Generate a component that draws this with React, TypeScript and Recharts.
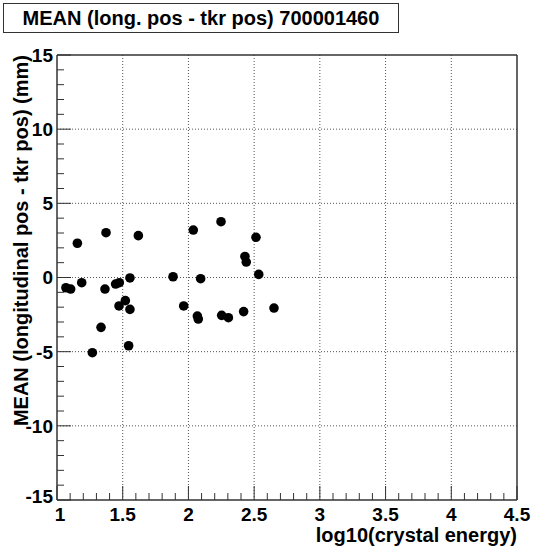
import React from 'react';
import {
  ScatterChart,
  Scatter,
  XAxis,
  YAxis,
  CartesianGrid,
  ReferenceLine,
} from 'recharts';

// Data
const logEnergy = [
  1.068, 1.104, 1.155, 1.188, 1.269, 1.335, 1.365, 1.373, 1.446, 1.472,
  1.474, 1.52, 1.545, 1.555, 1.555, 1.619, 1.883, 1.964, 2.037, 2.068,
  2.075, 2.093, 2.248, 2.253, 2.304, 2.42, 2.43, 2.44, 2.514, 2.535, 2.651,
];
const meanDiff = [
  -0.69, -0.78, 2.31, -0.35, -5.07, -3.36, -0.78, 3.02, -0.44, -1.92,
  -0.35, -1.56, -4.6, -0.03, -2.15, 2.82, 0.05, -1.92, 3.2, -2.6,
  -2.8, -0.08, 3.76, -2.55, -2.71, -2.3, 1.42, 1.04, 2.71, 0.21, -2.06,
];

const xMajorTicks = [1, 1.5, 2, 2.5, 3, 3.5, 4, 4.5];
const xTickLabels = ['1', '1.5', '2', '2.5', '3', '3.5', '4', '4.5'];
const yMajorTicks = [-15, -10, -5, 0, 5, 10, 15];
const yTickLabels = ['-15', '-10', '-5', '0', '5', '10', '15'];

const titleText = 'MEAN (long. pos - tkr pos) 700001460';
const xTitle = 'log10(crystal energy)';
const yTitle = 'MEAN (longitudinal pos - tkr pos) (mm)';

const data = logEnergy.map((x, i) => ({ x, y: meanDiff[i] }));

const xAllTicks: number[] = [];
for (let i = 0; i <= 35; i++) xAllTicks.push(Math.round((1 + i * 0.1) * 10) / 10);
const yAllTicks: number[] = [];
for (let i = -15; i <= 15; i++) yAllTicks.push(i);

const FONT = '"Liberation Sans", Arial, Helvetica, sans-serif';
const AXIS_COLOR = '#333';

const XTick = (props: any) => {
  const { x, y, payload } = props;
  const v = payload.value as number;
  const idx = xMajorTicks.findIndex((m) => Math.abs(m - v) < 1e-6);
  const major = idx >= 0;
  const dx = idx === 0 ? 3 : 0;
  return (
    <g>
      <line x1={x} x2={x} y1={y} y2={y - (major ? 14 : 7)} stroke={AXIS_COLOR} strokeWidth={1} />
      {major && (
        <text x={x + dx} y={y + 21} textAnchor="middle" fontFamily={FONT} fontWeight="bold" fontSize={19} fill="#000">
          {xTickLabels[idx]}
        </text>
      )}
    </g>
  );
};

const YTick = (props: any) => {
  const { x, y, payload } = props;
  const v = payload.value as number;
  const idx = yMajorTicks.findIndex((m) => Math.abs(m - v) < 1e-6);
  const major = idx >= 0;
  const dy = idx === 0 ? -4 : 0;
  return (
    <g>
      <line x1={x} x2={x + (major ? 14 : 7)} y1={y} y2={y} stroke={AXIS_COLOR} strokeWidth={1} />
      {major && (
        <text x={x - 4} y={y + dy} dy="0.36em" textAnchor="end" fontFamily={FONT} fontWeight="bold" fontSize={19} fill="#000">
          {yTickLabels[idx]}
        </text>
      )}
    </g>
  );
};

const Dot = (props: any) => {
  const { cx, cy } = props;
  return <circle cx={cx} cy={cy} r={4.8} fill="#000" />;
};

export default function App() {
  return (
    <div style={{ position: 'absolute', left: 0, top: 0, width: 533, height: 551, background: '#fff' }}>
      <ScatterChart width={533} height={551} margin={{ top: 55, right: 16, bottom: 0, left: 7 }}>
        <CartesianGrid
          stroke="#555"
          strokeDasharray="1 2"
          horizontalValues={[-10, -5, 0, 5, 10]}
          verticalValues={[1.5, 2, 2.5, 3, 3.5, 4]}
        />
        <XAxis
          type="number"
          dataKey="x"
          domain={[1, 4.5]}
          ticks={xAllTicks}
          interval={0}
          height={51}
          tickSize={0}
          tickMargin={0}
          tick={<XTick />}
          axisLine={{ stroke: AXIS_COLOR, strokeWidth: 1.5 }}
          allowDataOverflow
          label={{
            content: (p: any) => {
              const vb = p.viewBox || { x: 57, y: 500, width: 460, height: 51 };
              return (
                <text x={vb.x + vb.width} y={vb.y + 42} textAnchor="end" fontFamily={FONT} fontWeight="bold" fontSize={20} fill="#000">
                  {xTitle}
                </text>
              );
            },
          }}
        />
        <YAxis
          type="number"
          dataKey="y"
          domain={[-15, 15]}
          ticks={yAllTicks}
          interval={0}
          width={50}
          tickSize={0}
          tickMargin={0}
          tick={<YTick />}
          axisLine={{ stroke: AXIS_COLOR, strokeWidth: 1.5 }}
          allowDataOverflow
          label={{
            content: (p: any) => {
              const vb = p.viewBox || { x: 7, y: 55, width: 50, height: 445 };
              const tx = vb.x + 21;
              const ty = vb.y;
              return (
                <text
                  x={tx}
                  y={ty}
                  transform={`rotate(-90 ${tx} ${ty})`}
                  textAnchor="end"
                  fontFamily={FONT}
                  fontWeight="bold"
                  fontSize={20}
                  fill="#000"
                >
                  {yTitle}
                </text>
              );
            },
          }}
        />
        <ReferenceLine y={15} stroke={AXIS_COLOR} strokeWidth={1.5} />
        <ReferenceLine x={4.5} stroke={AXIS_COLOR} strokeWidth={1.5} />
        <Scatter data={data} shape={<Dot />} isAnimationActive={false} />
      </ScatterChart>
      <div
        style={{
          position: 'absolute',
          left: 3,
          top: 3,
          width: 394,
          height: 28,
          border: '1.5px solid #333',
          background: '#fff',
          fontFamily: FONT,
          fontWeight: 'bold',
          fontSize: 20,
          lineHeight: '28px',
          textAlign: 'center',
          color: '#000',
          whiteSpace: 'nowrap',
        }}
      >
        {titleText}
      </div>
    </div>
  );
}
